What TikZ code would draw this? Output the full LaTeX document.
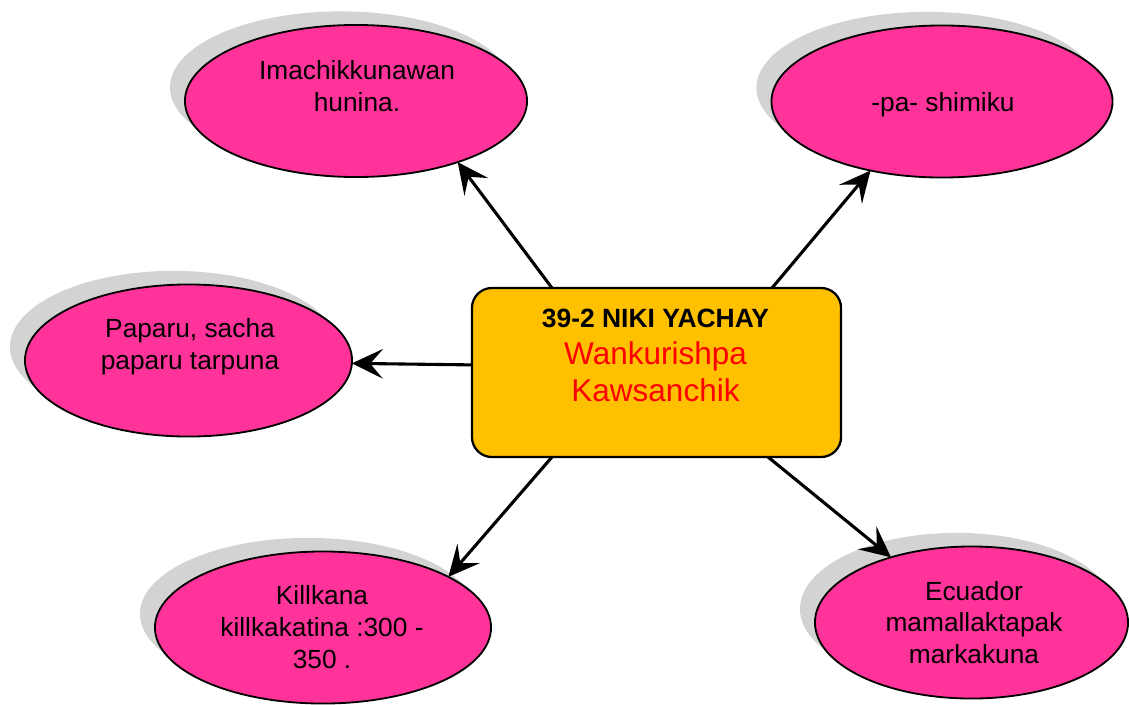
\documentclass[tikz,border=0pt]{standalone}
\usepackage{fontspec}
\setmainfont{Liberation Sans}
\usetikzlibrary{arrows.meta,shapes.geometric,shadows}
\definecolor{bubblepink}{HTML}{FF3399}
\definecolor{boxorange}{HTML}{FFC000}
\definecolor{shadowgray}{HTML}{D3D3D3}
\begin{document}
\begin{tikzpicture}[x=0.025cm,y=-0.025cm,%
>={Stealth[length=22pt,width=21pt,inset=9pt]},%
bubble/.style={ellipse, draw, line width=1.3pt, fill=bubblepink,
minimum height=3.8cm, outer sep=0pt,
drop shadow={shadow xshift=-0.375cm, shadow yshift=0.34cm, fill=shadowgray, opacity=1}},
bubtext/.style={inner sep=0pt, align=center, font=\fontsize{18.7}{22.5}\selectfont},
titlebox/.style={rectangle, draw, line width=1.6pt, fill=boxorange, rounded corners=0.5cm,
minimum width=9.225cm, minimum height=4.225cm, outer sep=0pt},
link/.style={->, line width=2.2pt}]
\useasboundingbox (0,0) rectangle (1129,704);
\node (box) at (656.5,372.5) [titlebox] {};
\node (boxtext) at (655.5,355.5) [inner sep=0pt, align=center,
font=\fontsize{22.4}{26.2}\selectfont]
{{\fontsize{18.8}{26.2}\selectfont\bfseries 39-2 NIKI YACHAY}\\
\textcolor{red}{Wankurishpa}\\ \textcolor{red}{Kawsanchik}};
\node (imachik) at (356,101) [bubble, minimum width=8.55cm] {};
\node (pa) at (942,101.5) [bubble, minimum width=8.525cm] {};
\node (paparu) at (188.5,360.5) [bubble, minimum width=8.175cm] {};
\node (killkana) at (323,627.5) [bubble, minimum width=8.4cm] {};
\node (ecuador) at (971.5,622.5) [bubble, minimum width=7.825cm] {};
\node (imachikT) at (357,86) [bubtext] {Imachikkunawan\\hunina.};
\node (paT) at (943,105) [bubtext] {-pa- shimiku};
\node (paparuT) at (190,347) [bubtext] {Paparu, sacha\\paparu tarpuna};
\node (killkanaT) at (322,627) [bubtext] {Killkana\\killkakatina :300 -\\350 .};
\node (ecuadorT) at (974,622.5) [bubtext] {Ecuador\\mamallaktapak\\markakuna};
\draw[link] ([xshift=2cm]box.north west) -- (imachik.-31);
\draw[link] ([xshift=-1.725cm]box.north east) -- (pa.224);
\draw[link] ([yshift=0.19cm]box.west) -- (paparu.-1.6);
\draw[link] ([xshift=2cm]box.south west) -- (killkana.22);
\draw[link] ([xshift=-1.825cm]box.south east) -- (ecuador.141);
\end{tikzpicture}
\end{document}
